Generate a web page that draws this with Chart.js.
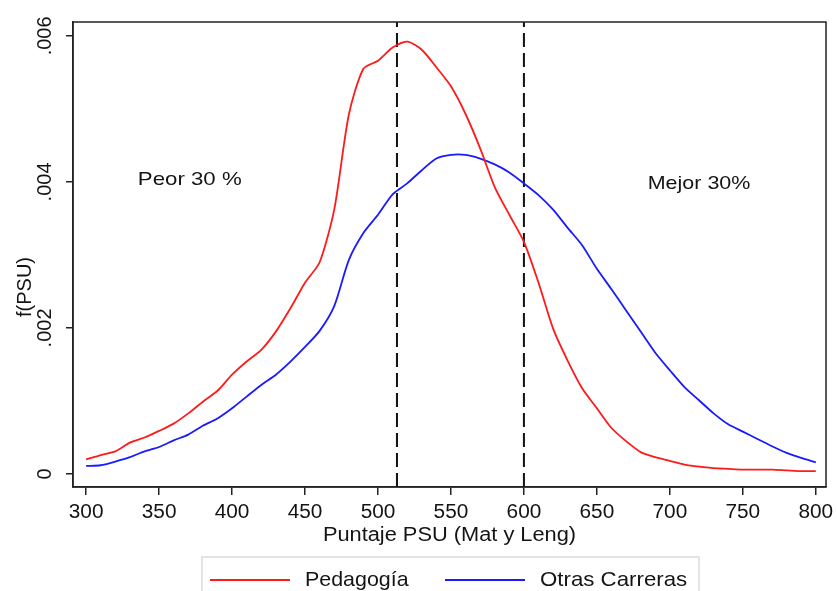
<!DOCTYPE html>
<html>
<head>
<meta charset="utf-8">
<script src="https://cdn.jsdelivr.net/npm/chart.js@4.4.1/dist/chart.umd.min.js"></script>
<style>
  html, body { margin: 0; padding: 0; background: #fff; }
  #wrap { width: 837px; height: 591px; }
</style>
</head>
<body>
<div id="wrap"><canvas id="grafico" width="837" height="591"></canvas></div>
<script>
// Puntaje PSU (eje x), cada 10 puntos
const puntajes = [300, 310, 320, 330, 340, 350, 360, 370, 380, 390,
                  400, 410, 420, 430, 440, 450, 460, 470, 480, 490,
                  500, 510, 520, 530, 540, 550, 560, 570, 580, 590,
                  600, 610, 620, 630, 640, 650, 660, 670, 680, 690,
                  700, 710, 720, 730, 740, 750, 760, 770, 780, 790, 800];

// densidad estimada f(PSU)
const pedagogia = [0.00020, 0.00026, 0.00031, 0.00043, 0.00050, 0.00059, 0.00069, 0.00083, 0.00099, 0.00114,
                   0.00136, 0.00154, 0.00170, 0.00195, 0.00227, 0.00262, 0.00290, 0.00362, 0.00492, 0.00555,
                   0.00566, 0.00584, 0.00592, 0.00581, 0.00557, 0.00531, 0.00493, 0.00446, 0.00393, 0.00355,
                   0.00318, 0.00262, 0.00199, 0.00155, 0.00117, 0.00090, 0.00063, 0.00045, 0.00030, 0.00023,
                   0.00018, 0.00013, 0.00010, 0.00008, 0.00007, 0.00006, 0.00006, 0.00006, 0.00005, 0.00004, 0.00004];

const otrasCarreras = [0.00011, 0.00012, 0.00017, 0.00023, 0.00031, 0.00037, 0.00046, 0.00054, 0.00066, 0.00076,
                       0.00090, 0.00106, 0.00122, 0.00136, 0.00154, 0.00174, 0.00196, 0.00230, 0.00293, 0.00330,
                       0.00355, 0.00383, 0.00398, 0.00416, 0.00432, 0.00437, 0.00437, 0.00432, 0.00424, 0.00413,
                       0.00398, 0.00382, 0.00362, 0.00337, 0.00313, 0.00281, 0.00253, 0.00224, 0.00195, 0.00166,
                       0.00142, 0.00119, 0.00101, 0.00083, 0.00068, 0.00058, 0.00048, 0.00038, 0.00029, 0.00022, 0.00016];

// percentiles 30% y 70%
const cortes = [513, 600];

const xTicks = [300, 350, 400, 450, 500, 550, 600, 650, 700, 750, 800];
const yTicks = [0, 0.002, 0.004, 0.006];
const yTickLabels = ['0', '.002', '.004', '.006'];

const X_MIN = 291, X_MAX = 807;
const Y_MIN = -0.000178, Y_MAX = 0.00619;

const FONT = "'Liberation Sans', Arial, sans-serif";
const TXT = '#141414';

function pares(xs, ys) {
    return xs.map((x, i) => ({ x: x, y: ys[i] }));
}

// texto algo ensanchado, como en el grafico original
function texto(ctx, s, x, y, ancho) {
    ctx.save();
    ctx.translate(x, y);
    ctx.scale(ancho, 1);
    ctx.fillText(s, 0, 0);
    ctx.restore();
}

const datasets = [
    {
        label: 'Pedagogía',
        data: pares(puntajes, pedagogia),
        borderColor: '#ff1a1a',
        borderWidth: 1.8,
        pointRadius: 0,
        tension: 0.25
    },
    {
        label: 'Otras Carreras',
        data: pares(puntajes, otrasCarreras),
        borderColor: '#1a1aff',
        borderWidth: 1.8,
        pointRadius: 0,
        tension: 0.25
    }
];

cortes.forEach(c => {
    datasets.push({
        label: 'corte',
        data: [{ x: c, y: Y_MIN }, { x: c, y: Y_MAX }],
        borderColor: '#111',
        borderWidth: 2,
        borderDash: [14, 6],
        pointRadius: 0
    });
});

const textos = {
    id: 'textos',
    afterDraw(chart) {
        const ctx = chart.ctx;
        const xs = chart.scales.x;
        const ys = chart.scales.y;
        const area = chart.chartArea;

        ctx.save();
        // marco
        ctx.strokeStyle = '#222';
        ctx.lineWidth = 1.5;
        ctx.strokeRect(area.left, area.top, area.right - area.left, area.bottom - area.top);

        ctx.fillStyle = TXT;
        ctx.font = '20px ' + FONT;
        ctx.textAlign = 'center';
        ctx.textBaseline = 'middle';

        // etiquetas eje x
        xTicks.forEach(v => {
            texto(ctx, String(v), xs.getPixelForValue(v), 512, 1.04);
        });

        // etiquetas eje y (rotadas)
        yTicks.forEach((v, i) => {
            ctx.save();
            ctx.translate(45, ys.getPixelForValue(v));
            ctx.rotate(-Math.PI / 2);
            ctx.fillText(yTickLabels[i], 0, 0);
            ctx.restore();
        });

        // titulos de ejes
        texto(ctx, 'Puntaje PSU (Mat y Leng)', (area.left + area.right) / 2, 535, 1.09);
        ctx.save();
        ctx.translate(25, 287);
        ctx.rotate(-Math.PI / 2);
        ctx.fillText('f(PSU)', 0, 0);
        ctx.restore();

        // anotaciones
        ctx.font = '19px ' + FONT;
        texto(ctx, 'Peor 30 %', xs.getPixelForValue(371), ys.getPixelForValue(0.00403), 1.17);
        texto(ctx, 'Mejor 30%', xs.getPixelForValue(720), ys.getPixelForValue(0.00397), 1.13);

        // leyenda
        ctx.strokeStyle = '#d8dde2';
        ctx.lineWidth = 1.5;
        ctx.strokeRect(202, 557, 497, 50);
        ctx.lineWidth = 2;
        ctx.strokeStyle = chart.data.datasets[0].borderColor;
        ctx.beginPath(); ctx.moveTo(210, 580); ctx.lineTo(290, 580); ctx.stroke();
        ctx.strokeStyle = chart.data.datasets[1].borderColor;
        ctx.beginPath(); ctx.moveTo(445, 580); ctx.lineTo(525, 580); ctx.stroke();
        ctx.font = '21px ' + FONT;
        ctx.textAlign = 'left';
        texto(ctx, chart.data.datasets[0].label, 305, 580, 1.02);
        texto(ctx, chart.data.datasets[1].label, 540, 580, 1.06);
        ctx.restore();
    }
};

new Chart(document.getElementById('grafico'), {
    type: 'line',
    data: { datasets: datasets },
    options: {
        responsive: false,
        animation: false,
        layout: { padding: { top: 22, right: 11, left: 0, bottom: 0 } },
        plugins: {
            legend: { display: false },
            tooltip: { enabled: false }
        },
        scales: {
            x: {
                type: 'linear',
                min: X_MIN,
                max: X_MAX,
                afterBuildTicks: s => { s.ticks = xTicks.map(v => ({ value: v })); },
                afterFit: s => { s.height = 104; },
                ticks: { display: false },
                grid: { drawOnChartArea: false, drawTicks: true, tickLength: 8, color: '#222', lineWidth: 1.5 },
                border: { color: '#222', width: 1.5 }
            },
            y: {
                type: 'linear',
                min: Y_MIN,
                max: Y_MAX,
                afterBuildTicks: s => { s.ticks = yTicks.map(v => ({ value: v })); },
                afterFit: s => { s.width = 73; },
                ticks: { display: false },
                grid: { drawOnChartArea: false, drawTicks: true, tickLength: 7, color: '#222', lineWidth: 1.5 },
                border: { color: '#222', width: 1.5 }
            }
        }
    },
    plugins: [textos]
});
</script>
</body>
</html>
